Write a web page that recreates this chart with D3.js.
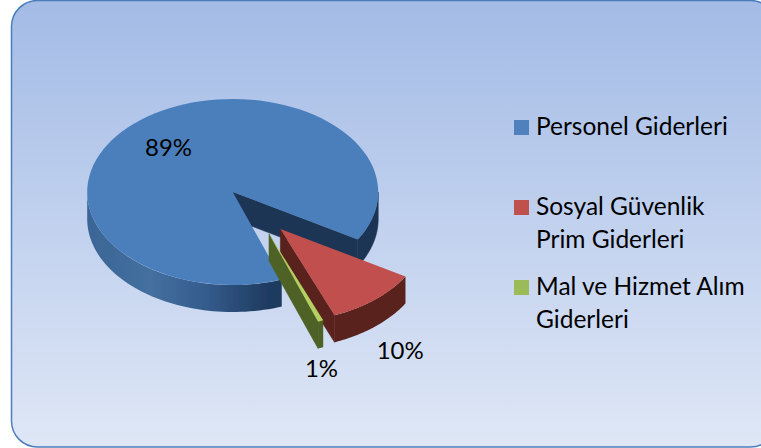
<!DOCTYPE html>
<html>
<head>
<meta charset="utf-8">
<script src="https://cdn.jsdelivr.net/npm/d3@7"></script>
<style>
  html, body { margin: 0; padding: 0; background: #fff; overflow: hidden; }
  svg { display: block; }
  text { font-family: Lato, "Open Sans", sans-serif; fill: #000; }
</style>
</head>
<body>
<div id="chart"></div>
<script>
// data
const categories = ["Personel Giderleri", "Sosyal Güvenlik\nPrim Giderleri", "Mal ve Hizmet Alım\nGiderleri"];
const values = [89, 10.4, 0.6];

// slice styles
const topColors = ["#4b7fbc", "#c0504d", "#b4d060"];
const legendColors = ["#4f81bd", "#c0504d", "#9bbb59"];
const sideColors = ["#1d3555", "#5a201c", "#4f6228"];
const explodeAmount = [0, 0.515, 0.515]; // fraction of the radius
const explodeAngle = [0, 50.5, 61];      // degrees, clockwise from +x
const labelRadius = [0.655, 1.3, 1.205];
const labelAngle = [227.7, 50.7, 72.6];

const width = 761, height = 448;
const cx = 232.7, cy = 192, rx = 145.5, ry = 93, depth = 27;
const startAngle = 160.3 * Math.PI / 180; // d3 angle, 0 = 12 o'clock

const svg = d3.select("#chart").append("svg")
  .attr("width", width).attr("height", height);

const defs = svg.append("defs");

const bgGrad = defs.append("linearGradient")
  .attr("id", "bg").attr("x1", 0).attr("y1", 0).attr("x2", 0).attr("y2", 1);
bgGrad.append("stop").attr("offset", "0%").attr("stop-color", "#a3bbe6");
bgGrad.append("stop").attr("offset", "100%").attr("stop-color", "#dfe7f6");

const rimGrad = defs.append("linearGradient")
  .attr("id", "rimBlue").attr("gradientUnits", "userSpaceOnUse")
  .attr("x1", cx - rx).attr("y1", 0).attr("x2", cx + rx).attr("y2", 0);
[[0, "#3a6596"], [0.22, "#44709f"], [0.42, "#335a8a"], [0.62, "#1f3b60"], [1, "#1d3555"]].forEach(s =>
  rimGrad.append("stop").attr("offset", s[0]).attr("stop-color", s[1]));

defs.append("filter").attr("id", "soft")
  .append("feGaussianBlur").attr("stdDeviation", 0.35);

// panel, its right side runs off the picture
svg.append("rect")
  .attr("x", 11.5).attr("y", 0.5)
  .attr("width", 765).attr("height", 446.5)
  .attr("rx", 26).attr("ry", 26)
  .attr("fill", "url(#bg)")
  .attr("stroke", "#4a7ebb").attr("stroke-width", 1.5);

// pie
const pie = d3.pie().sort(null).startAngle(startAngle).endAngle(startAngle + 2 * Math.PI);
const slices = pie(values).map((d, i) => {
  const a = explodeAngle[i] * Math.PI / 180;
  return {
    arc: d,
    i: i,
    ox: cx + explodeAmount[i] * rx * Math.cos(a),
    oy: cy + explodeAmount[i] * ry * Math.sin(a),
    // angles measured clockwise from +x on screen
    t0: d.startAngle - Math.PI / 2,
    t1: d.endAngle - Math.PI / 2
  };
});

const arcGen = d3.arc().innerRadius(0).outerRadius(rx);
const px = (s, t) => s.ox + rx * Math.cos(t);
const py = (s, t) => s.oy + ry * Math.sin(t);

// outer wall between two angles
function rimPath(s, a, b) {
  const ts = d3.range(0, 61).map(k => a + (b - a) * k / 60);
  return d3.area()
    .x(t => px(s, t))
    .y0(t => py(s, t))
    .y1(t => py(s, t) + depth)(ts);
}

// flat wall from the slice apex out to the rim
function wallPath(s, t) {
  const line = d3.line();
  return line([
    [s.ox, s.oy],
    [px(s, t), py(s, t)],
    [px(s, t), py(s, t) + depth],
    [s.ox, s.oy + depth]
  ]) + "Z";
}

const TAU = 2 * Math.PI;
const pieG = svg.append("g").attr("filter", "url(#soft)");

slices.forEach(s => {
  const g = pieG.append("g");
  const fill = s.i === 0 ? "url(#rimBlue)" : sideColors[s.i];

  if (s.i === 0) {
    // cut face of the big slice, seen through the gap
    g.append("path").attr("d", wallPath(s, s.t1)).attr("fill", sideColors[0])
      .attr("stroke", sideColors[0]).attr("stroke-width", 0.6);
    g.append("path").attr("d", rimPath(s, s.t0, Math.PI)).attr("fill", fill);
    g.append("path").attr("d", rimPath(s, TAU, s.t1)).attr("fill", sideColors[0])
      .attr("stroke", sideColors[0]).attr("stroke-width", 0.6);
  } else {
    g.append("path").attr("d", wallPath(s, s.t1)).attr("fill", sideColors[s.i])
      .attr("stroke", sideColors[s.i]).attr("stroke-width", 0.6);
    g.append("path").attr("d", rimPath(s, s.t0, s.t1)).attr("fill", fill);
  }

  g.append("path")
    .attr("transform", `translate(${s.ox},${s.oy}) scale(1,${ry / rx})`)
    .attr("d", arcGen(s.arc))
    .attr("fill", topColors[s.i]);
});

// data labels
const labelG = svg.append("g");
slices.forEach(s => {
  const a = labelAngle[s.i] * Math.PI / 180;
  const r = labelRadius[s.i];
  labelG.append("text")
    .attr("x", s.ox + r * rx * Math.cos(a))
    .attr("y", s.oy + r * ry * Math.sin(a) + (r > 1 ? depth : 0))
    .attr("text-anchor", "middle")
    .attr("dominant-baseline", "central")
    .attr("font-size", 24)
    .text(d3.format(".0f")(values[s.i]) + "%");
});

// legend
const legendY = [120, 200, 280];
const legend = svg.append("g").selectAll("g").data(categories).enter().append("g")
  .attr("transform", (d, i) => `translate(514,${legendY[i]})`);

legend.append("rect")
  .attr("width", 15).attr("height", 15)
  .attr("fill", (d, i) => legendColors[i]);

legend.each(function (d) {
  d3.select(this).selectAll("text").data(d.split("\n")).enter().append("text")
    .attr("x", 22)
    .attr("y", (l, k) => 15 + k * 33)
    .attr("font-size", 24.5)
    .text(l => l);
});
</script>
</body>
</html>
